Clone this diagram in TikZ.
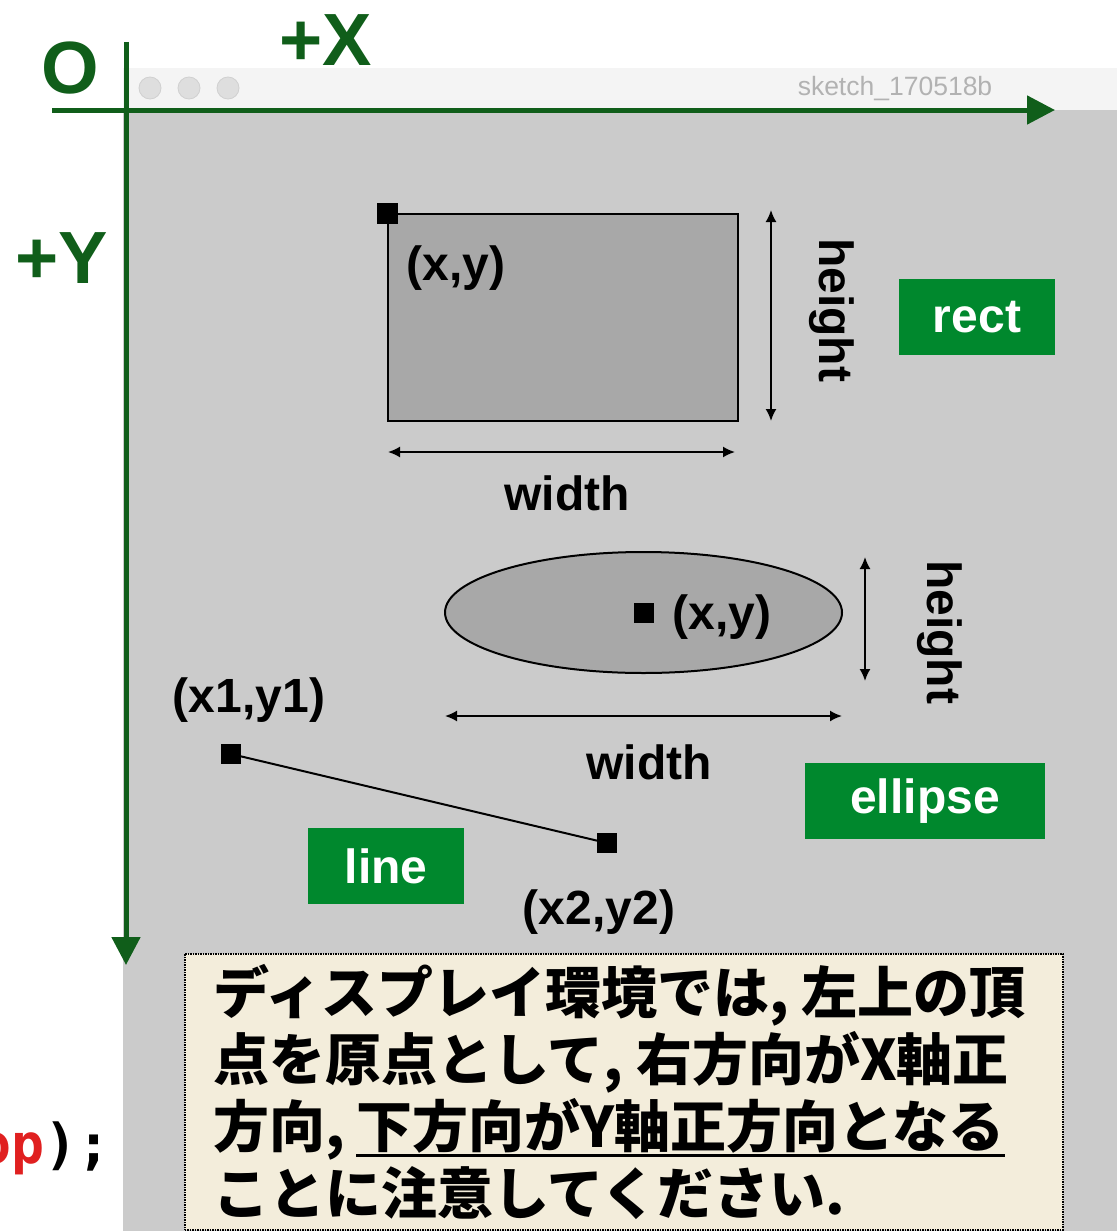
\documentclass[tikz,border=0pt]{standalone}
\usepackage{fontspec}
\setmainfont{Liberation Sans}
\newfontfamily\jp{Noto Sans CJK JP}
\newfontfamily\monofam{DejaVu Sans Mono}
\usetikzlibrary{arrows.meta,shapes.geometric}
\definecolor{axisgreen}{RGB}{16,94,26}
\definecolor{tagreen}{RGB}{0,136,45}
\definecolor{bggray}{RGB}{203,203,203}
\definecolor{bargray}{RGB}{244,244,244}
\definecolor{shapegray}{RGB}{168,168,168}
\definecolor{dotgray}{RGB}{222,222,222}
\definecolor{dotedge}{RGB}{208,208,208}
\definecolor{titlegray}{RGB}{178,178,178}
\definecolor{notefill}{RGB}{243,237,219}
\definecolor{codered}{RGB}{224,32,32}
\tikzset{
  axis/.style={draw=axisgreen, line width=5pt, -{Triangle[length=28pt,width=28pt]}},
  axislabel/.style={text=axisgreen, font=\fontsize{74}{80}\selectfont\bfseries, inner sep=0pt},
  shapebox/.style={draw=black, fill=shapegray, line width=2pt, inner sep=0pt},
  marker/.style={fill=black, minimum size=21pt, inner sep=0pt},
  dim/.style={draw=black, line width=1.8pt, {Latex[length=12pt,width=11pt]}-{Latex[length=12pt,width=11pt]}},
  lbl/.style={font=\fontsize{48}{56}\selectfont\bfseries, inner sep=0pt},
  tag/.style={fill=tagreen, text=white, font=\fontsize{48}{56}\selectfont\bfseries, inner sep=0pt},
  trafficdot/.style={circle, fill=dotgray, draw=dotedge, line width=0.8pt, minimum size=22pt, inner sep=0pt},
  notebox/.style={draw=black, fill=notefill, densely dotted, line width=1.5pt, inner sep=0pt},
  jptext/.style={font=\jp\bfseries\fontsize{56}{67}\selectfont, inner sep=0pt, anchor=base west},
}
\begin{document}
\begin{tikzpicture}[x=1pt,y=-1pt]
\useasboundingbox (0,0) rectangle (1117,1231);
% window
\fill[bargray] (123,68) rectangle (1117,110);
\fill[bggray] (123,110) rectangle (1117,1231);
\node[trafficdot] (d1) at (150,88) {};
\node[trafficdot] (d2) at (189,88) {};
\node[trafficdot] (d3) at (228,88) {};
\node[text=titlegray, font=\fontsize{26.5}{30}\selectfont, inner sep=0pt] (title) at (895,89) {sketch\_170518b};
% rect
\node[shapebox, minimum width=350pt, minimum height=207pt, anchor=north west] (rect) at (387,213) {};
\node[marker] (rectxy) at (387,213) {};
\node[lbl] (rectxylbl) at (456,268) {(x,y)};
\coordinate (rh1) at (771,210);
\coordinate (rh2) at (771,421);
\draw[dim] (rh1) -- (rh2);
\node[lbl, rotate=-90] (rhlbl) at (832,310) {height};
\coordinate (rw1) at (388,452);
\coordinate (rw2) at (735,452);
\draw[dim] (rw1) -- (rw2);
\node[lbl] (rwlbl) at (567,493) {width};
\node[tag, minimum width=156pt, minimum height=76pt] (recttag) at (977,317) {rect};
% ellipse
\node[ellipse, shapebox, minimum width=397pt, minimum height=121pt] (ell) at (643.5,612.5) {};
\node[marker, minimum size=20pt] (ellxy) at (644,613) {};
\node[lbl] (ellxylbl) at (722,617) {(x,y)};
\coordinate (eh1) at (865,557);
\coordinate (eh2) at (865,681);
\draw[dim] (eh1) -- (eh2);
\node[lbl, rotate=-90] (ehlbl) at (940,632) {height};
\coordinate (ew1) at (445,716);
\coordinate (ew2) at (842,716);
\draw[dim] (ew1) -- (ew2);
\node[lbl] (ewlbl) at (649,762) {width};
\node[tag, minimum width=240pt, minimum height=76pt] (elltag) at (925,801) {ellipse};
% line
\node[marker, minimum size=20pt] (p1) at (231,754) {};
\node[marker, minimum size=20pt] (p2) at (607,843) {};
\draw[black, line width=2pt] (p1.center) -- (p2.center);
\node[lbl] (p1lbl) at (249,700) {(x1,y1)};
\node[lbl] (p2lbl) at (599,912) {(x2,y2)};
\node[tag, minimum width=156pt, minimum height=76pt] (linetag) at (386,866) {line};
% note
\node[notebox, minimum width=878pt, minimum height=276pt, anchor=north west] (note) at (184,953) {};
\node[jptext] (j1) at (213,1013) {ディスプレイ環境では, 左上の頂};
\node[jptext] (j2) at (213,1080) {点を原点として, 右方向がX軸正};
\node[jptext] (j3a) at (213,1147) {方向,};
\node[jptext] (j3b) at (356,1147) {下方向がY軸正方向となる};
\node[jptext] (j4) at (213,1214) {ことに注意してください.};
\draw[black, line width=3pt] ([yshift=-8pt]j3b.base west) -- ([yshift=-8pt]j3b.base east);
% code fragment
\node[font=\monofam\bfseries\fontsize{55}{60}\selectfont, inner sep=0pt, anchor=base west] (code) at (-22,1163) {\textcolor{codered}{op});};
% axes
\coordinate (xs) at (52,110);
\coordinate (xe) at (1055,110);
\coordinate (ys) at (126,42);
\coordinate (ye) at (126,965);
\draw[axis] (xs) -- (xe);
\draw[axis] (ys) -- (ye);
\node[axislabel] (olbl) at (70,68) {O};
\node[axislabel] (xlbl) at (326,40) {+X};
\node[axislabel] (ylbl) at (62,258) {+Y};
\end{tikzpicture}
\end{document}
